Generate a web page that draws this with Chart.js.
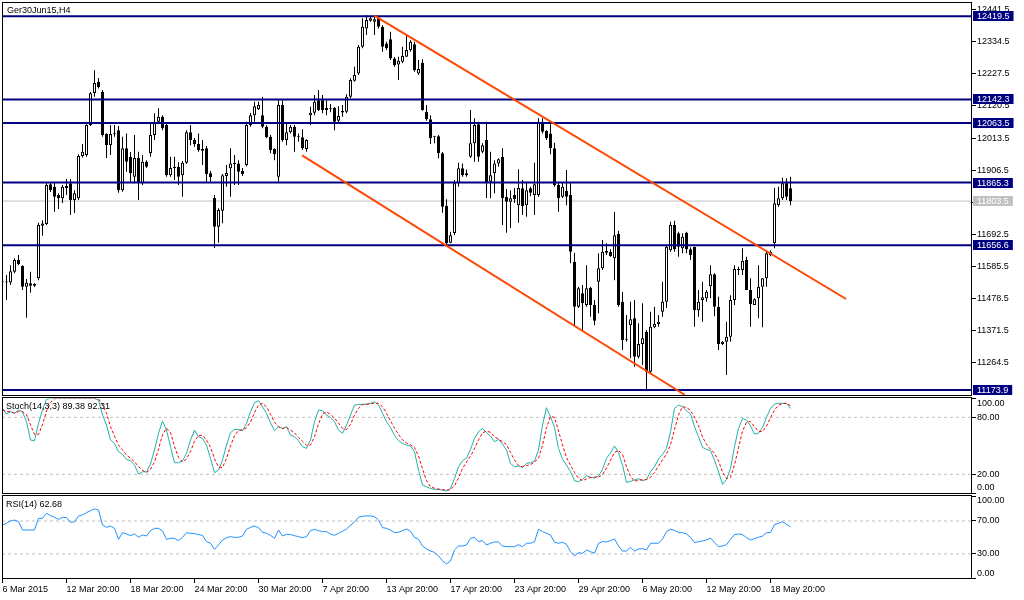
<!DOCTYPE html>
<html><head><meta charset="utf-8">
<script src="https://cdn.jsdelivr.net/npm/chart.js@4.4.1/dist/chart.umd.min.js"></script>
<style>
html,body{margin:0;padding:0;background:#fff;width:1024px;height:600px;overflow:hidden}
canvas{position:absolute;left:0}
#c1{top:0}#c2{top:397px}#c3{top:495px}
</style></head><body>
<canvas id="c1" width="1024" height="396"></canvas>
<canvas id="c2" width="1024" height="97"></canvas>
<canvas id="c3" width="1024" height="105"></canvas>
<script>
// ---------- data ----------
const chartTitle = "Ger30Jun15,H4";
const stochTitle = "Stoch(14,3,3) 89.38 92.31";
const rsiTitle = "RSI(14) 62.68";

const opens = [11535,11532,11532,11568,11607,11587,11518,11530,11527,11546,
11721,11727,11860,11851,11824,11813,11854,11863,11807,11813,
11954,11957,12057,12164,12201,12168,12027,11990,12026,12040,
11840,11980,11951,11885,11947,11863,11935,11964,12024,12068,
12085,12057,11890,11918,11918,11890,11931,12033,12007,11994,
11977,11980,11896,11814,11718,11771,11887,11913,11927,11929,
11905,11924,12057,12090,12110,12090,12051,12018,11977,11885,
12124,12007,12033,12051,12016,12016,11977,12090,12098,12140,
12140,12114,12110,12114,12071,12099,12101,12151,12205,12229,
12318,12379,12405,12401,12413,12385,12329,12343,12279,12259,
12268,12285,12307,12326,12229,12265,12101,12076,12018,12020,
11963,11787,11665,11697,11863,11913,11896,11951,11996,12060,
11968,12007,11868,11896,11929,11951,11817,11801,11824,11790,
11846,11790,11846,11824,11824,12065,12037,12029,11980,11857,
11818,11838,11824,11601,11451,11496,11457,11515,11457,11535,
11580,11637,11635,11613,11694,11468,11340,11390,11413,11285,
11327,11368,11235,11383,11394,11435,11468,11640,11724,11696,
11646,11698,11643,11651,11440,11474,11480,11520,11560,11451,
11327,11335,11351,11474,11574,11574,11607,11507,11457,11480,
11518,11546,11624,11663,11790,11813,11863,11846];
const highs = [11540,11557,11590,11613,11624,11590,11544,11568,11530,11731,
11740,11864,11865,11864,11830,11857,11877,11877,11840,11960,
11994,12060,12167,12240,12214,12174,12030,12057,12057,12054,
12018,12029,11967,12024,11968,11957,11940,12063,12096,12113,
12090,12064,11951,11951,11934,11937,12040,12057,12014,12029,
12007,11987,11904,11824,11780,11894,11924,11980,11957,11940,
11914,12068,12097,12135,12135,12151,12057,12024,11980,12140,
12140,12063,12057,12057,12029,12043,12010,12118,12157,12174,
12157,12140,12127,12117,12120,12124,12160,12213,12251,12324,
12413,12424,12418,12424,12418,12390,12335,12368,12284,12285,
12318,12357,12340,12335,12274,12276,12124,12090,12020,12024,
11967,11810,11701,11874,11931,11929,11909,12107,12080,12068,
11996,12068,11968,11940,11946,11980,11844,11840,11847,11910,
11874,11868,11851,11931,12080,12080,12040,12060,11998,11865,
11864,11907,11865,11631,11518,11524,11590,11518,11474,11630,
11674,11663,11643,11768,11705,11501,11424,11468,11474,11396,
11463,11374,11435,11451,11424,11535,11657,11735,11738,11701,
11696,11701,11650,11651,11507,11535,11507,11590,11563,11485,
11337,11401,11490,11590,11585,11646,11618,11546,11480,11590,
11546,11635,11640,11848,11851,11881,11880,11885];
const lows = [11530,11474,11524,11563,11590,11507,11415,11498,11517,11540,
11688,11724,11834,11768,11777,11797,11824,11757,11764,11807,
11949,11951,12054,12151,12179,12018,11947,11957,12018,11831,
11835,11901,11868,11863,11807,11857,11914,11951,12007,12064,
12040,11885,11885,11874,11857,11818,11927,11990,11985,11968,
11924,11868,11868,11647,11665,11730,11851,11818,11857,11857,
11887,11920,12051,12068,12107,12046,12013,11963,11940,11868,
12001,11990,12029,11968,12001,11974,11968,12057,12090,12104,
12096,12090,12100,12040,12067,12085,12096,12146,12201,12224,
12313,12357,12401,12357,12379,12301,12307,12274,12251,12207,
12263,12285,12301,12235,12224,12105,12071,11994,11996,11946,
11765,11657,11663,11690,11851,11885,11885,11947,11935,11935,
11963,11814,11813,11830,11918,11724,11698,11714,11797,11731,
11757,11751,11820,11757,11818,12029,12007,11960,11851,11768,
11814,11790,11596,11390,11447,11371,11451,11418,11390,11430,
11574,11624,11618,11540,11451,11307,11335,11280,11251,11280,
11257,11174,11230,11380,11385,11418,11447,11635,11635,11618,
11630,11630,11607,11385,11418,11401,11468,11480,11420,11307,
11324,11224,11335,11457,11557,11557,11507,11385,11457,11413,
11383,11518,11620,11646,11785,11807,11807,11790];
const closes = [11536,11533,11570,11607,11594,11518,11531,11521,11521,11724,
11729,11857,11840,11818,11813,11851,11847,11807,11830,11954,
11968,12057,12163,12197,12183,12024,11990,12027,12027,11840,
11980,11935,11896,11947,11864,11935,11918,12024,12068,12085,
12046,11890,11914,11913,11885,11931,12033,12007,11994,11974,
11971,11894,11884,11718,11774,11890,11897,11929,11928,11901,
11894,12057,12090,12120,12124,12051,12016,11974,11960,12124,
12007,12033,12051,12018,12017,11980,12007,12098,12135,12107,
12107,12107,12111,12068,12087,12104,12151,12207,12224,12318,
12385,12407,12413,12410,12385,12318,12313,12279,12257,12271,
12287,12307,12335,12240,12244,12107,12076,12013,12019,11963,
11785,11663,11690,11863,11913,11890,11890,11996,12057,11951,
11990,11864,11890,11929,11943,11813,11801,11813,11810,11847,
11787,11840,11831,11860,12068,12035,12013,11980,11857,11813,
11851,11818,11635,11451,11513,11463,11513,11457,11405,11580,
11635,11631,11620,11690,11457,11340,11341,11410,11285,11327,
11346,11235,11385,11394,11401,11468,11651,11724,11643,11651,
11685,11643,11624,11440,11468,11483,11501,11560,11451,11327,
11335,11351,11474,11577,11577,11605,11507,11460,11476,11518,
11546,11630,11635,11796,11813,11863,11818,11803.5];

const stochK = [89.4,83.5,85.9,84.2,87.7,85.9,75.4,56.1,55.4,73.6,
87.7,98.9,100,100,100,100,100,100,100,100,
100,100,100,100,98.2,82.4,71.9,56.1,52.6,43.8,
41.0,35.7,34.3,29.8,20.3,22.7,22.7,30.8,45.6,63.1,
76.1,66.6,49.1,32.2,32.2,34.3,42.0,56.1,66.6,59.6,
57.8,50.8,36.8,21.7,24.5,35.0,50.8,63.8,67.3,67.3,
65.9,73.6,85.9,95.4,97.5,91.2,84.2,74.3,65.9,70.1,
68.3,70.1,61.3,59.6,55.4,49.1,47.3,56.1,75.4,87.7,
87.0,82.4,79.9,75.4,66.6,63.1,71.9,82.4,92.9,93.6,
93.6,94.0,94.7,96.4,92.9,84.2,75.4,69.4,61.3,55.4,
52.6,50.8,49.8,43.8,24.5,8.7,6.9,5.2,4.1,4.1,
3.4,2.7,5.2,15.7,28.0,34.3,36.8,46.3,57.8,64.8,
68.3,63.8,60.3,54.3,56.8,51.9,45.6,31.5,28.0,28.7,
27.3,31.5,32.2,34.0,45.6,71.9,90.1,80.6,69.4,47.3,
36.1,29.8,22.7,13.2,12.2,14.7,18.5,16.8,16.1,18.2,
25.2,36.8,42.7,49.8,42.7,29.8,11.5,12.6,14.0,15.4,
13.3,14.7,22.7,28.0,36.1,41.0,47.3,64.8,89.4,92.9,
91.2,86.9,83.5,70.1,59.6,48.4,46.3,44.9,35.0,22.7,
9.4,14.7,26.3,49.1,68.3,78.9,77.1,70.8,62.4,63.1,
69.4,79.9,89.4,94.0,94.7,94.7,94.7,89.38];
const stochD = [88,86,86,84.5,86,86,83,72,62,62,
72.3,86.7,95.6,99.6,100,100,100,100,100,100,
100,100,100,100,99.4,93.5,84.2,70.1,60.2,50.8,
45.8,40.2,37,33.3,28.1,24.3,21.9,25.4,33,46.5,
61.6,68.6,63.9,49.3,37.8,32.9,36.2,44.1,54.9,60.8,
61.3,56.1,48.5,36.4,27.7,27.1,36.8,49.9,60.6,66.1,
66.8,68.9,75.1,85,92.9,94.7,91,83.2,74.8,70.1,
68.1,69.5,66.6,63.7,58.8,54.7,50.6,50.8,59.6,73.1,
83.4,85.7,83.1,79.2,74,68.4,67.2,72.5,82.4,89.6,
93.4,93.7,94.1,95,94.7,91.2,84.2,76.3,68.7,62,
56.4,52.9,51.1,48.1,39.4,25.7,13.4,6.9,5.4,4.5,
3.9,3.4,3.8,7.9,16.3,26,33,39.1,47,56.3,
63.6,65.6,64.1,59.5,57.1,54.3,51.4,43,35,29.4,
28,29.2,30.3,32.6,37.3,50.5,69.2,80.9,80,65.8,
50.9,37.7,29.5,21.9,16,13.4,15.1,16.7,17.1,17,
19.8,26.7,34.9,43.1,45.1,40.8,28,18,12.7,14,
14.2,14.5,16.9,21.8,28.9,35,41.5,51,67.2,82.4,
91.2,90.3,87.2,80.2,71.1,59.4,51.4,46.5,42.1,34.2,
22.4,15.6,16.8,30,47.9,65.4,74.8,75.6,70.1,65.4,
65,70.8,79.6,87.8,92.7,94.5,94.7,92.31];
const rsi = [65.2,67.2,70.0,71.2,69.2,59.1,59.1,59.1,59.1,73.2,
73.2,79.3,76.5,74.5,72.0,74.5,74.1,68.4,68.8,76.1,
77.3,80.1,82.5,84.6,83.3,65.2,62.3,63.9,61.1,47.8,
55.9,54.3,52.2,54.3,50.2,53.0,51.8,58.3,61.1,61.1,
57.9,47.8,49.0,49.0,46.2,50.2,55.9,55.1,54.7,53.5,
52.6,45.0,43.0,35.7,40.9,47.0,49.8,51.0,50.2,50.2,
51.8,59.9,62.3,63.9,61.9,56.3,55.1,52.6,49.0,59.1,
51.8,53.9,53.5,52.2,51.0,49.8,51.0,58.3,59.9,58.3,
57.1,57.1,54.3,52.6,55.1,57.5,60.3,64.8,68.8,74.5,
75.7,76.1,76.1,75.3,71.2,61.9,61.1,59.1,55.9,56.3,
58.3,60.3,57.5,50.2,47.8,39.7,36.1,33.6,32.0,27.6,
21.9,17.9,21.5,34.9,39.7,39.7,40.9,49.0,50.2,45.0,
46.2,40.9,43.0,44.6,44.6,39.7,38.9,38.9,38.9,41.3,
38.9,43.0,43.0,45.0,59.9,57.1,55.1,53.0,44.2,43.0,
44.2,41.7,32.8,27.6,31.6,30.8,34.9,32.8,30.8,43.0,
45.0,44.6,46.2,48.2,39.7,33.6,33.6,38.1,33.6,36.1,
36.5,34.9,43.0,43.0,43.0,48.2,57.1,59.9,58.7,55.9,
55.9,54.3,50.2,43.7,45.0,45.8,47.0,49.4,43.7,38.9,
39.7,41.3,47.8,53.5,54.3,53.5,49.8,47.0,48.6,50.2,
51.8,55.9,55.9,65.6,67.2,69.2,66.0,62.68];

const timeLabels = ["6 Mar 2015","12 Mar 20:00","18 Mar 20:00","24 Mar 20:00","30 Mar 20:00","7 Apr 20:00","13 Apr 20:00","17 Apr 20:00","23 Apr 20:00","29 Apr 20:00","6 May 20:00","12 May 20:00","18 May 20:00"];
const timeTickIndex = [0,16,32,48,64,80,96,112,128,144,160,176,192];
const priceTicks = [12441.5,12334.5,12227.5,12120.5,12013.5,11906.5,11799.5,11692.5,11585.5,11478.5,11371.5,11264.5];
const levelPrices = [12419.5,12142.3,12063.5,11865.3,11656.6,11173.9];
const lastPrice = 11803.5;
const upperTrend = [[92.95,12421.5],[210.9,11477.1]];
const lowerTrend = [[74.9,11956.1],[170.6,11157.1]];
const stochLevels = [80,20];
const stochTicks = [0,20,80,100];
const rsiLevels = [70,30];
const rsiTicks = [0,30,70,100];

// ---------- setup ----------
const FAM = '"Liberation Sans", Arial, sans-serif';
const FONTSTR = '9px ' + FAM;
Chart.defaults.font.family = FAM;
Chart.defaults.font.size = 9;
Chart.defaults.color = '#000';
const XMIN = -0.125, XMAX = 242.375;
const NAVY = '#000080';

function xAxis(show){
  return {type:'linear', min:XMIN, max:XMAX, offset:false, display:show, position:'bottom',
    grid:{display:show, drawOnChartArea:false, drawTicks:true, tickLength:4, color:'#000', offset:false},
    border:{display:false},
    afterBuildTicks(s){ s.ticks = timeTickIndex.map(v=>({value:v})); },
    afterFit(s){ s.height = show ? 21 : 0; s.paddingLeft = 0; s.paddingRight = 0; },
    ticks:{align:'start', padding:1, autoSkip:false, maxRotation:0, color:'#000',
      callback:(v)=>{ const k = timeTickIndex.indexOf(v); return k>=0 ? timeLabels[k] : ''; }}
  };
}
function yAxis(min, max, tickVals, fmt){
  return {type:'linear', position:'right', min, max,
    grid:{display:true, drawOnChartArea:false, drawTicks:true, tickLength:4, color:'#000'},
    border:{display:false},
    afterBuildTicks(s){ s.ticks = tickVals.map(v=>({value:v})); },
    afterFit(s){ s.width = 52; s.paddingTop = 0; s.paddingBottom = 0; },
    ticks:{padding:1, autoSkip:false, color:'#000', callback:fmt}
  };
}
function frame(ctx, a){
  ctx.strokeStyle = '#000'; ctx.lineWidth = 1;
  ctx.strokeRect(a.left+0.5, a.top+0.5, a.right-a.left-1, a.bottom-a.top-1);
}
function tag(ctx, py, text, bg){
  const w = ctx.measureText(text).width;
  const y0 = Math.round(py);
  ctx.fillStyle = bg; ctx.fillRect(973, y0-5, w+8, 10);
  ctx.fillStyle = '#fff'; ctx.fillText(text, 977, y0+0.5);
}
function hline(v, color, width, dash, order){
  return {type:'line', data:[{x:XMIN,y:v},{x:XMAX,y:v}], borderColor:color, borderWidth:width,
    borderDash:dash||[], pointRadius:0, order:order, tension:0};
}
function series(arr, color, dash, order, clip){
  const d = {type:'line', data:arr.map((v,i)=>({x:i,y:v})), borderColor:color, borderWidth:1,
    borderDash:dash||[], pointRadius:0, tension:0, order:order};
  if (clip) d.clip = clip;
  return d;
}
const common = {responsive:false, animation:false, devicePixelRatio:1, events:[],
  plugins:{legend:{display:false}, tooltip:{enabled:false}}};

// ---------- main price panel ----------
const bodyColor = (c)=>{ const i=c.dataIndex; return (closes[i]-opens[i] > 6) ? '#fff' : '#000'; };
new Chart(document.getElementById('c1'), {
  type:'bar',
  data:{datasets:[
    {type:'bar', data:opens.map((o,i)=>({x:i, y:[Math.min(o,closes[i]), Math.max(o,closes[i])]})),
      backgroundColor:bodyColor, borderColor:'#000', borderWidth:1, borderSkipped:false,
      barThickness:3, grouped:false, minBarLength:1, inflateAmount:0, order:1},
    {type:'bar', data:highs.map((h,i)=>({x:i, y:[lows[i], h]})),
      backgroundColor:'#000', borderWidth:0, barThickness:1, grouped:false, inflateAmount:0, order:2},
    hline(lastPrice, '#C0C0C0', 1, null, 3),
    ...levelPrices.map(v=>hline(v, NAVY, 2, null, 0)),
    {type:'line', data:upperTrend.map(p=>({x:p[0],y:p[1]})), borderColor:'#FF4500', borderWidth:2, pointRadius:0, order:-1},
    {type:'line', data:lowerTrend.map(p=>({x:p[0],y:p[1]})), borderColor:'#FF4500', borderWidth:2, pointRadius:0, order:-1}
  ]},
  options:Object.assign({}, common, {
    layout:{padding:{left:2, top:2, right:0, bottom:0}, autoPadding:false},
    scales:{x:xAxis(false), y:yAxis(11153.8, 12467.1, priceTicks, v=>v.toFixed(1))}
  }),
  plugins:[{id:'mainDecor', afterDraw(chart){
    const {ctx, chartArea:a, scales:{y}} = chart;
    ctx.save();
    frame(ctx, a);
    ctx.font = FONTSTR; ctx.textBaseline = 'middle'; ctx.textAlign = 'left';
    ctx.fillStyle = '#000'; ctx.fillText(chartTitle, 7, 10.5);
    levelPrices.forEach(v=>tag(ctx, y.getPixelForValue(v), v.toFixed(1), NAVY));
    tag(ctx, y.getPixelForValue(lastPrice), lastPrice.toFixed(1), '#C0C0C0');
    ctx.restore();
  }}]
});

// ---------- stochastic panel ----------
new Chart(document.getElementById('c2'), {
  type:'line',
  data:{datasets:[
    ...stochLevels.map(v=>hline(v, '#C0C0C0', 1, [3,3], 5)),
    series(stochK, '#20B2AA', null, 2, {left:0, right:0, top:-1.5, bottom:0}),
    series(stochD, '#FF0000', [3,2], 1, {left:0, right:0, top:-1.5, bottom:0})
  ]},
  options:Object.assign({}, common, {
    layout:{padding:{left:2, top:0, right:0, bottom:0}, autoPadding:false},
    scales:{x:xAxis(false), y:yAxis(-0.7, 101.4, stochTicks, v=>(v===0||v===100)?'':v.toFixed(2))}
  }),
  plugins:[{id:'stochDecor', afterDraw(chart){
    const {ctx, chartArea:a} = chart;
    ctx.save();
    frame(ctx, a);
    ctx.font = FONTSTR; ctx.textBaseline = 'middle'; ctx.textAlign = 'left'; ctx.fillStyle = '#000';
    ctx.fillText(stochTitle, 6, 9.5);
    ctx.fillText((100).toFixed(2), 977, 6.5);
    ctx.fillText((0).toFixed(2), 977, 90.5);
    ctx.restore();
  }}]
});

// ---------- RSI panel ----------
new Chart(document.getElementById('c3'), {
  type:'line',
  data:{datasets:[
    ...rsiLevels.map(v=>hline(v, '#C0C0C0', 1, [3,3], 5)),
    series(rsi, '#1E90FF', null, 1)
  ]},
  options:Object.assign({}, common, {
    layout:{padding:{left:2, top:0, right:0, bottom:0}, autoPadding:false},
    scales:{x:xAxis(true), y:yAxis(-0.3, 101.5, rsiTicks, v=>(v===0||v===100)?'':v.toFixed(2))}
  }),
  plugins:[{id:'rsiDecor', afterDraw(chart){
    const {ctx, chartArea:a} = chart;
    ctx.save();
    frame(ctx, a);
    ctx.font = FONTSTR; ctx.textBaseline = 'middle'; ctx.textAlign = 'left'; ctx.fillStyle = '#000';
    ctx.fillText(rsiTitle, 6, 10);
    ctx.fillText((100).toFixed(2), 977, 5.5);
    ctx.fillText((0).toFixed(2), 977, 78.5);
    ctx.restore();
  }}]
});
</script>
</body></html>
